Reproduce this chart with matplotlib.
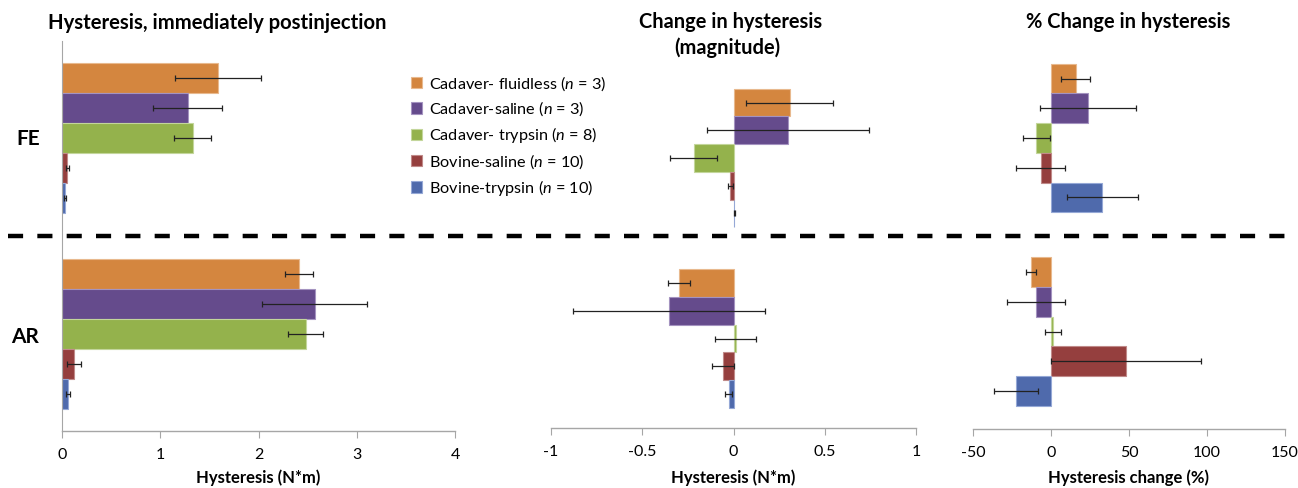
import matplotlib
matplotlib.use("Agg")
import matplotlib.pyplot as plt
from matplotlib.patches import Patch
from matplotlib.lines import Line2D
import numpy as np

plt.rcParams['font.family'] = ['Lato', 'DejaVu Sans']
plt.rcParams['mathtext.fontset'] = 'custom'
plt.rcParams['mathtext.rm'] = 'Lato'
plt.rcParams['mathtext.it'] = 'Lato:italic'
plt.rcParams['axes.unicode_minus'] = False

# ---------------- data ----------------
groups = ["FE", "AR"]
series = ["Cadaver- fluidless ($n$ = 3)", "Cadaver-saline ($n$ = 3)",
          "Cadaver- trypsin ($n$ = 8)", "Bovine-saline ($n$ = 10)",
          "Bovine-trypsin ($n$ = 10)"]
colors = ["#D4863F", "#654B8C", "#94B24C", "#953F3E", "#4F6AAC"]
edges = ["#E8B98E", "#A493C0", "#C3D69B", "#C08A89", "#95A8D6"]

# Hysteresis immediately postinjection (N*m); rows = series, cols = [FE, AR]
hyst_mean = [[1.59, 2.41], [1.28, 2.57], [1.33, 2.48], [0.055, 0.12], [0.034, 0.065]]
hyst_err = [[0.44, 0.14], [0.35, 0.53], [0.19, 0.18], [0.015, 0.07], [0.01, 0.02]]

# Change in hysteresis magnitude (N*m)
chg_mean = [[0.307, -0.30], [0.30, -0.352], [-0.219, 0.012], [-0.018, -0.058], [0.003, -0.026]]
chg_err = [[0.237, 0.06], [0.443, 0.525], [0.13, 0.112], [0.013, 0.06], [0.003, 0.019]]

# % change in hysteresis
pct_mean = [[16.0, -12.6], [23.8, -9.6], [-9.4, 1.5], [-6.5, 48.0], [33.0, -22.4]]
pct_err = [[9.3, 3.2], [30.6, 18.3], [8.7, 5.1], [15.7, 48.0], [22.8, 13.9]]

left_ticks = [0, 1, 2, 3, 4]
mid_ticks = [-1, -0.5, 0, 0.5, 1]
mid_ticklabels = ["-1", "-0.5", "0", "0.5", "1"]
right_ticks = [-50, 0, 50, 100, 150]
right_ticklabels = ["-50", "0", "50", "100", "150"]

W, H = 1298, 488
fig = plt.figure(figsize=(W / 100, H / 100), dpi=100)


def make_axes(x0, x1, top, bottom, c0, c1, barpx):
    ax = fig.add_axes([x0 / W, 1 - bottom / H, (x1 - x0) / W, (bottom - top) / H])
    s = c1 - c0
    ax.set_ylim(1 + (bottom - c1) / s, -(c0 - top) / s)
    return ax, barpx / s, top, bottom


def draw(ax, h, means, errs):
    ypos = np.arange(len(groups))
    for i in range(len(series)):
        y = ypos + (i - 2) * h
        ax.barh(y, [means[i][g] for g in range(len(groups))], height=h,
                color=colors[i], edgecolor=edges[i], linewidth=0.8, zorder=2)
        ax.errorbar([means[i][g] for g in range(len(groups))], y,
                    xerr=[errs[i][g] for g in range(len(groups))], fmt='none',
                    ecolor='#222222', elinewidth=0.9, capsize=2, capthick=0.9, zorder=3)


def style(ax, show_left, label, top, bottom):
    for sp in ['top', 'right']:
        ax.spines[sp].set_visible(False)
    ax.spines['left'].set_visible(show_left)
    ax.spines['left'].set_color('#A6A6A6')
    ax.spines['bottom'].set_color('#A6A6A6')
    ax.spines['bottom'].set_linewidth(1.0)
    ax.set_yticks([])
    ax.tick_params(axis='x', direction='out', length=5, color='#A6A6A6',
                   labelsize=11.5, pad=7, labelcolor='black')
    ax.patch.set_alpha(0)
    ax.set_xlabel(label, fontsize=12, fontweight='bold', va='center')
    ax.xaxis.set_label_coords(0.5, (bottom - 478) / (bottom - top))


# left panel
axL, hL, t, b = make_axes(62, 455, 41, 431, 138, 334, 30)
draw(axL, hL, hyst_mean, hyst_err)
axL.set_xlim(0, 4)
axL.set_xticks(left_ticks)
style(axL, True, "Hysteresis (N*m)", t, b)

# middle panel
axM, hM, t, b = make_axes(551, 916, 72, 428, 158, 338.5, 27.7)
draw(axM, hM, chg_mean, chg_err)
axM.set_xlim(-1, 1)
axM.set_xticks(mid_ticks)
axM.set_xticklabels(mid_ticklabels)
style(axM, False, "Hysteresis (N*m)", t, b)

# right panel
axR, hR, t, b = make_axes(973, 1285, 46, 429, 138, 331.5, 29.7)
draw(axR, hR, pct_mean, pct_err)
axR.set_xlim(-50, 150)
axR.set_xticks(right_ticks)
axR.set_xticklabels(right_ticklabels)
style(axR, False, "Hysteresis change (%)", t, b)

# titles
def ftext(x, y, s, **kw):
    fig.text(x / W, 1 - y / H, s, ha='center', va='center', **kw)

ftext(217, 23, "Hysteresis, immediately postinjection", fontsize=14.6, fontweight='bold')
ftext(731, 22, "Change in hysteresis", fontsize=14.4, fontweight='bold')
ftext(727, 48, "(magnitude)", fontsize=14.4, fontweight='bold')
ftext(1128, 22, "% Change in hysteresis", fontsize=14.4, fontweight='bold')
ftext(28, 139, "FE", fontsize=15, fontweight='bold')
ftext(25, 337, "AR", fontsize=15, fontweight='bold')

# dashed separator
fig.add_artist(Line2D([8 / W, 1295 / W], [1 - 236 / H, 1 - 236 / H], color='black',
                      linewidth=3.2, linestyle=(0, (3.4, 3.2)), transform=fig.transFigure))

# legend
handles = [Patch(facecolor=c, edgecolor=e, linewidth=0.8) for c, e in zip(colors, edges)]
fig.legend(handles, series, loc='upper left', bbox_to_anchor=(411 / W, 1 - 74 / H),
           frameon=False, fontsize=11.7, handlelength=0.7, handleheight=0.7,
           handletextpad=0.4, labelspacing=0.43, borderpad=0, borderaxespad=0)

fig.savefig("out.png", dpi=100)
